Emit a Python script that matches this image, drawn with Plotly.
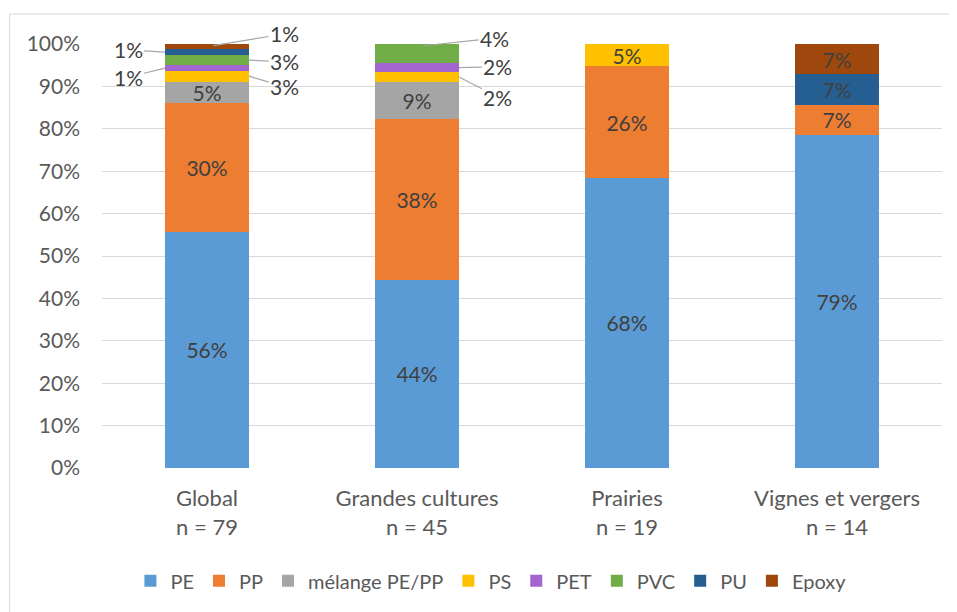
import plotly.graph_objects as go

categories = ["Global<br>n = 79", "Grandes cultures<br>n = 45", "Prairies<br>n = 19", "Vignes et vergers<br>n = 14"]
series_names = ["PE", "PP", "mélange PE/PP", "PS", "PET", "PVC", "PU", "Epoxy"]
PE = [55.70, 44.44, 68.42, 78.57]
PP = [30.38, 37.78, 26.32, 7.14]
MELANGE = [5.06, 8.89, 0, 0]
PS = [2.53, 2.22, 5.26, 0]
PET = [1.27, 2.22, 0, 0]
PVC = [2.53, 4.44, 0, 0]
PU = [1.27, 0, 0, 7.14]
EPOXY = [1.27, 0, 0, 7.14]
y_ticks = [0, 10, 20, 30, 40, 50, 60, 70, 80, 90, 100]

series_values = [PE, PP, MELANGE, PS, PET, PVC, PU, EPOXY]
colors = ["#5B9BD5", "#ED7D31", "#A5A5A5", "#FFC000", "#A365CF", "#70AD47", "#255E91", "#9E480E"]

FONT = "Lato"
FS = 21
FS_CAT = 22
FS_LEG = 20
TXT = "#404040"
AX = "#595959"
BAR_W = 0.4
INSIDE_MIN = 5

# outside label placement: (series index, category index) -> (label dx, label y, anchor side)
outside = {
    (7, 0): (0.37, 102.4, "top"),
    (6, 0): (-0.376, 98.6, "left"),
    (5, 0): (0.37, 95.8, "right"),
    (4, 0): (-0.376, 92.2, "left"),
    (3, 0): (0.37, 89.9, "right"),
    (5, 1): (0.37, 101.4, "top"),
    (4, 1): (0.385, 94.6, "right"),
    (3, 1): (0.385, 87.5, "right"),
}

x = list(range(len(categories)))
fig = go.Figure()
for name, vals, col in zip(series_names, series_values, colors):
    texts = [f"{round(v)}%" if v >= INSIDE_MIN else "" for v in vals]
    fig.add_trace(go.Bar(
        name=name, x=x, y=vals, marker=dict(color=col, line=dict(width=0)),
        width=BAR_W, text=texts, textposition="inside", insidetextanchor="middle",
        constraintext="none",
        textangle=0, textfont=dict(family=FONT, size=FS, color=TXT),
        hoverinfo="skip",
    ))

annotations = []
cum = [0.0] * len(categories)
for si, vals in enumerate(series_values):
    for ci, v in enumerate(vals):
        bottom = cum[ci]
        cum[ci] += v
        if (si, ci) in outside:
            dx, ly, side = outside[(si, ci)]
            mid = bottom + v / 2
            if side == "top":
                px, py = ci + 0.03, bottom + v - 0.4
            elif side == "left":
                px, py = ci - BAR_W / 2, mid
            else:
                px, py = ci + BAR_W / 2, mid
            annotations.append(dict(
                x=px, y=py, ax=ci + dx, ay=ly, xref="x", yref="y", axref="x", ayref="y",
                text=f"{round(v)}%", showarrow=True, arrowhead=0, arrowwidth=1.2,
                arrowcolor="#A6A6A6", font=dict(family=FONT, size=FS, color=TXT),
            ))

frame = dict(color="#D9D9D9", width=1)
fig.update_layout(
    width=957, height=612,
    margin=dict(l=94, r=23, t=36, b=152),
    paper_bgcolor="white", plot_bgcolor="white",
    barmode="stack", bargap=0.6,
    font=dict(family=FONT, size=FS, color=AX),
    showlegend=True,
    legend=dict(orientation="h", x=0.463, xanchor="center", y=-0.22, yanchor="top",
                font=dict(family=FONT, size=FS_LEG, color=AX), traceorder="normal"),
    annotations=annotations,
    shapes=[
        dict(type="line", xref="paper", yref="paper", x0=-0.110, x1=1.2, y0=1.0708, y1=1.0708, line=frame, layer="below"),
        dict(type="line", xref="paper", yref="paper", x0=-0.110, x1=-0.110, y0=-0.4, y1=1.0708, line=frame, layer="below"),
    ],
)
fig.update_xaxes(tickvals=x, ticktext=categories, range=[-0.5, 3.5], showgrid=False,
                 zeroline=False, showline=False, ticks="", ticklabelstandoff=15,
                 tickfont=dict(family=FONT, size=FS_CAT, color=AX))
fig.update_yaxes(range=[0, 100], tickvals=y_ticks, ticktext=[f"{t}%" for t in y_ticks],
                 showgrid=True, gridcolor="#D9D9D9", gridwidth=1, zeroline=False,
                 showline=False, ticks="", ticklabelstandoff=21,
                 tickfont=dict(family=FONT, size=FS, color=AX))

fig.write_html("out.html")
